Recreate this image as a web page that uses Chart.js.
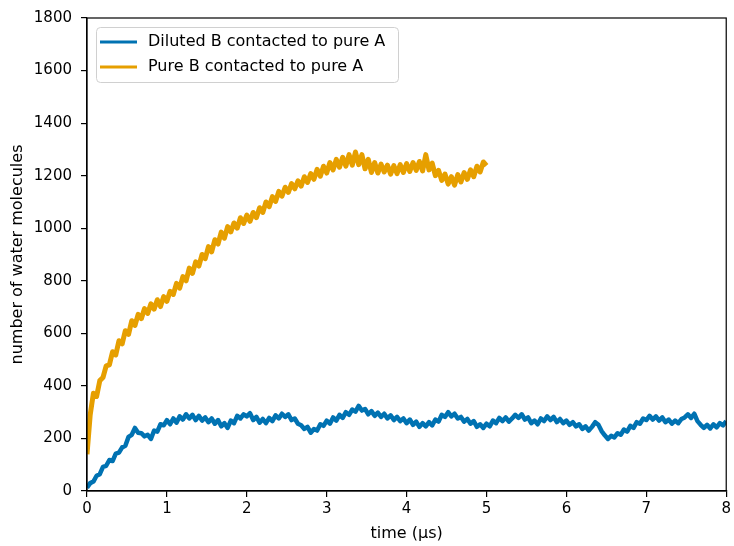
<!DOCTYPE html>
<html>
<head>
<meta charset="utf-8">
<script src="https://cdn.jsdelivr.net/npm/chart.js@4.4.1/dist/chart.umd.min.js"></script>
<style>
  html, body { margin: 0; padding: 0; background: #fff; }
</style>
</head>
<body>
<canvas id="chart" width="734" height="546"></canvas>
<script>
// sampling step of the traces, in microseconds
const dt = 0.04;

const seriesNames = ["Diluted B contacted to pure A", "Pure B contacted to pure A"];
const seriesColors = ["#0072B2", "#E69F00"];

// number of water molecules, one value every dt from t = 0 to t = 8 us
const dilutedB = [
  12, 30, 36, 58, 64, 92, 96, 118, 114, 142, 146, 166, 172, 206, 214, 240, 222, 220, 208, 214, 198, 230, 226, 254, 250,
  270, 254, 276, 260, 284, 272, 292, 276, 290, 270, 286, 268, 280, 262, 276, 256, 270, 246, 258, 240, 268, 258, 286, 276, 292,
  284, 296, 270, 282, 260, 274, 258, 278, 266, 288, 276, 294, 282, 292, 270, 276, 256, 250, 236, 244, 222, 236, 230, 254, 248,
  268, 256, 280, 268, 290, 278, 300, 290, 310, 302, 324, 306, 312, 292, 304, 286, 298, 282, 294, 276, 288, 270, 282, 266, 276,
  258, 272, 252, 264, 244, 258, 246, 262, 250, 272, 264, 290, 282, 300, 284, 294, 276, 282, 264, 274, 256, 266, 244, 254, 240,
  256, 246, 268, 258, 278, 266, 280, 264, 276, 290, 278, 292, 272, 280, 258, 268, 254, 276, 266, 284, 270, 282, 262, 274, 258,
  268, 252, 262, 246, 254, 236, 246, 230, 244, 262, 252, 228, 212, 198, 210, 204, 220, 214, 234, 226, 248, 240, 262, 256, 276,
  270, 286, 272, 284, 268, 280, 262, 272, 256, 268, 258, 274, 280, 292, 278, 294, 266, 252, 240, 252, 238, 254, 242, 258, 250,
  266
];

// one value every dt from t = 0 to t = 5 us
const pureB = [
  140, 290, 372, 360, 420, 432, 476, 480, 530, 518, 572, 560, 610, 596, 648, 630, 672, 656, 694, 676, 712, 692, 728, 702, 740,
  722, 760, 748, 790, 772, 816, 800, 848, 828, 872, 856, 900, 884, 930, 910, 956, 940, 985, 962, 1006, 986, 1020, 1000, 1040, 1018,
  1050, 1026, 1060, 1040, 1078, 1060, 1100, 1082, 1120, 1102, 1140, 1122, 1156, 1136, 1170, 1150, 1180, 1160, 1196, 1174, 1208, 1186, 1224, 1198, 1236,
  1210, 1250, 1222, 1262, 1232, 1270, 1236, 1280, 1240, 1290, 1242, 1280, 1226, 1262, 1212, 1250, 1210, 1244, 1214, 1240, 1206, 1238, 1208, 1242, 1212,
  1246, 1216, 1250, 1220, 1254, 1218, 1280, 1222, 1248, 1200, 1220, 1182, 1206, 1168, 1196, 1164, 1204, 1176, 1212, 1186, 1222, 1196, 1236, 1214, 1252,
  1238
];

const xTicks = [0, 1, 2, 3, 4, 5, 6, 7, 8];
const yTicks = [0, 200, 400, 600, 800, 1000, 1200, 1400, 1600, 1800];

function toPoints(values) {
  return values.map((v, i) => ({ x: Math.round(i * dt * 100) / 100, y: v }));
}

const tickFont = { family: "'DejaVu Sans', sans-serif", size: 15 };
const labelFont = { family: "'DejaVu Sans', sans-serif", size: 16 };

// box around the plot + matplotlib style legend inside it
const framePlugin = {
  id: "frame",
  afterDraw(chart) {
    const ctx = chart.ctx;
    const a = chart.chartArea;
    ctx.save();
    ctx.strokeStyle = "#000";
    ctx.lineWidth = 1.2;
    ctx.strokeRect(a.left, a.top, a.right - a.left, a.bottom - a.top);

    const x0 = a.left + 9, y0 = a.top + 9, w = 302, h = 55;
    ctx.fillStyle = "rgba(255,255,255,0.85)";
    ctx.strokeStyle = "#d0d0d0";
    ctx.lineWidth = 1;
    ctx.beginPath();
    ctx.roundRect(x0 + 0.5, y0 + 0.5, w, h, 4);
    ctx.fill();
    ctx.stroke();

    ctx.font = "16px 'DejaVu Sans', sans-serif";
    ctx.textBaseline = "middle";
    chart.data.datasets.forEach((ds, i) => {
      const yy = y0 + 15 + i * 25;
      ctx.strokeStyle = ds.borderColor;
      ctx.lineWidth = 3;
      ctx.beginPath();
      ctx.moveTo(x0 + 4, yy);
      ctx.lineTo(x0 + 41, yy);
      ctx.stroke();
      ctx.fillStyle = "#000";
      ctx.fillText(ds.label, x0 + 52, yy);
    });
    ctx.restore();
  }
};

new Chart(document.getElementById("chart").getContext("2d"), {
  type: "line",
  data: {
    datasets: [
      {
        label: seriesNames[0],
        data: toPoints(dilutedB),
        borderColor: seriesColors[0],
        borderWidth: 4.5,
        borderJoinStyle: "round",
        pointRadius: 0,
        tension: 0
      },
      {
        label: seriesNames[1],
        data: toPoints(pureB),
        borderColor: seriesColors[1],
        borderWidth: 5,
        borderJoinStyle: "round",
        pointRadius: 0,
        tension: 0
      }
    ]
  },
  options: {
    responsive: false,
    animation: false,
    layout: { padding: { top: 16, right: 7, left: 0, bottom: 0 } },
    plugins: { legend: { display: false }, tooltip: { enabled: false } },
    scales: {
      x: {
        type: "linear",
        min: 0,
        max: 8,
        afterBuildTicks: s => { s.ticks = xTicks.map(v => ({ value: v })); },
        afterFit: s => { s.height = 55; },
        ticks: { color: "#000", font: tickFont, padding: 3, maxRotation: 0, callback: v => String(v) },
        grid: { drawOnChartArea: false, tickLength: 6, color: "#000", lineWidth: 1.2 },
        border: { color: "#000", width: 1.2 },
        title: {
          display: true,
          text: "time (µs)",
          color: "#000",
          font: labelFont,
          padding: { top: 0, bottom: 3 }
        }
      },
      y: {
        min: 0,
        max: 1800,
        afterBuildTicks: s => { s.ticks = yTicks.map(v => ({ value: v })); },
        afterFit: s => { s.width = 87; },
        ticks: { color: "#000", font: tickFont, padding: 9, callback: v => String(v) },
        grid: { drawOnChartArea: false, tickLength: 6, color: "#000", lineWidth: 1.2 },
        border: { color: "#000", width: 1.2 },
        title: {
          display: true,
          text: "number of water molecules",
          color: "#000",
          font: labelFont,
          padding: { top: 8, bottom: 0 }
        }
      }
    }
  },
  plugins: [framePlugin]
});
</script>
</body>
</html>
